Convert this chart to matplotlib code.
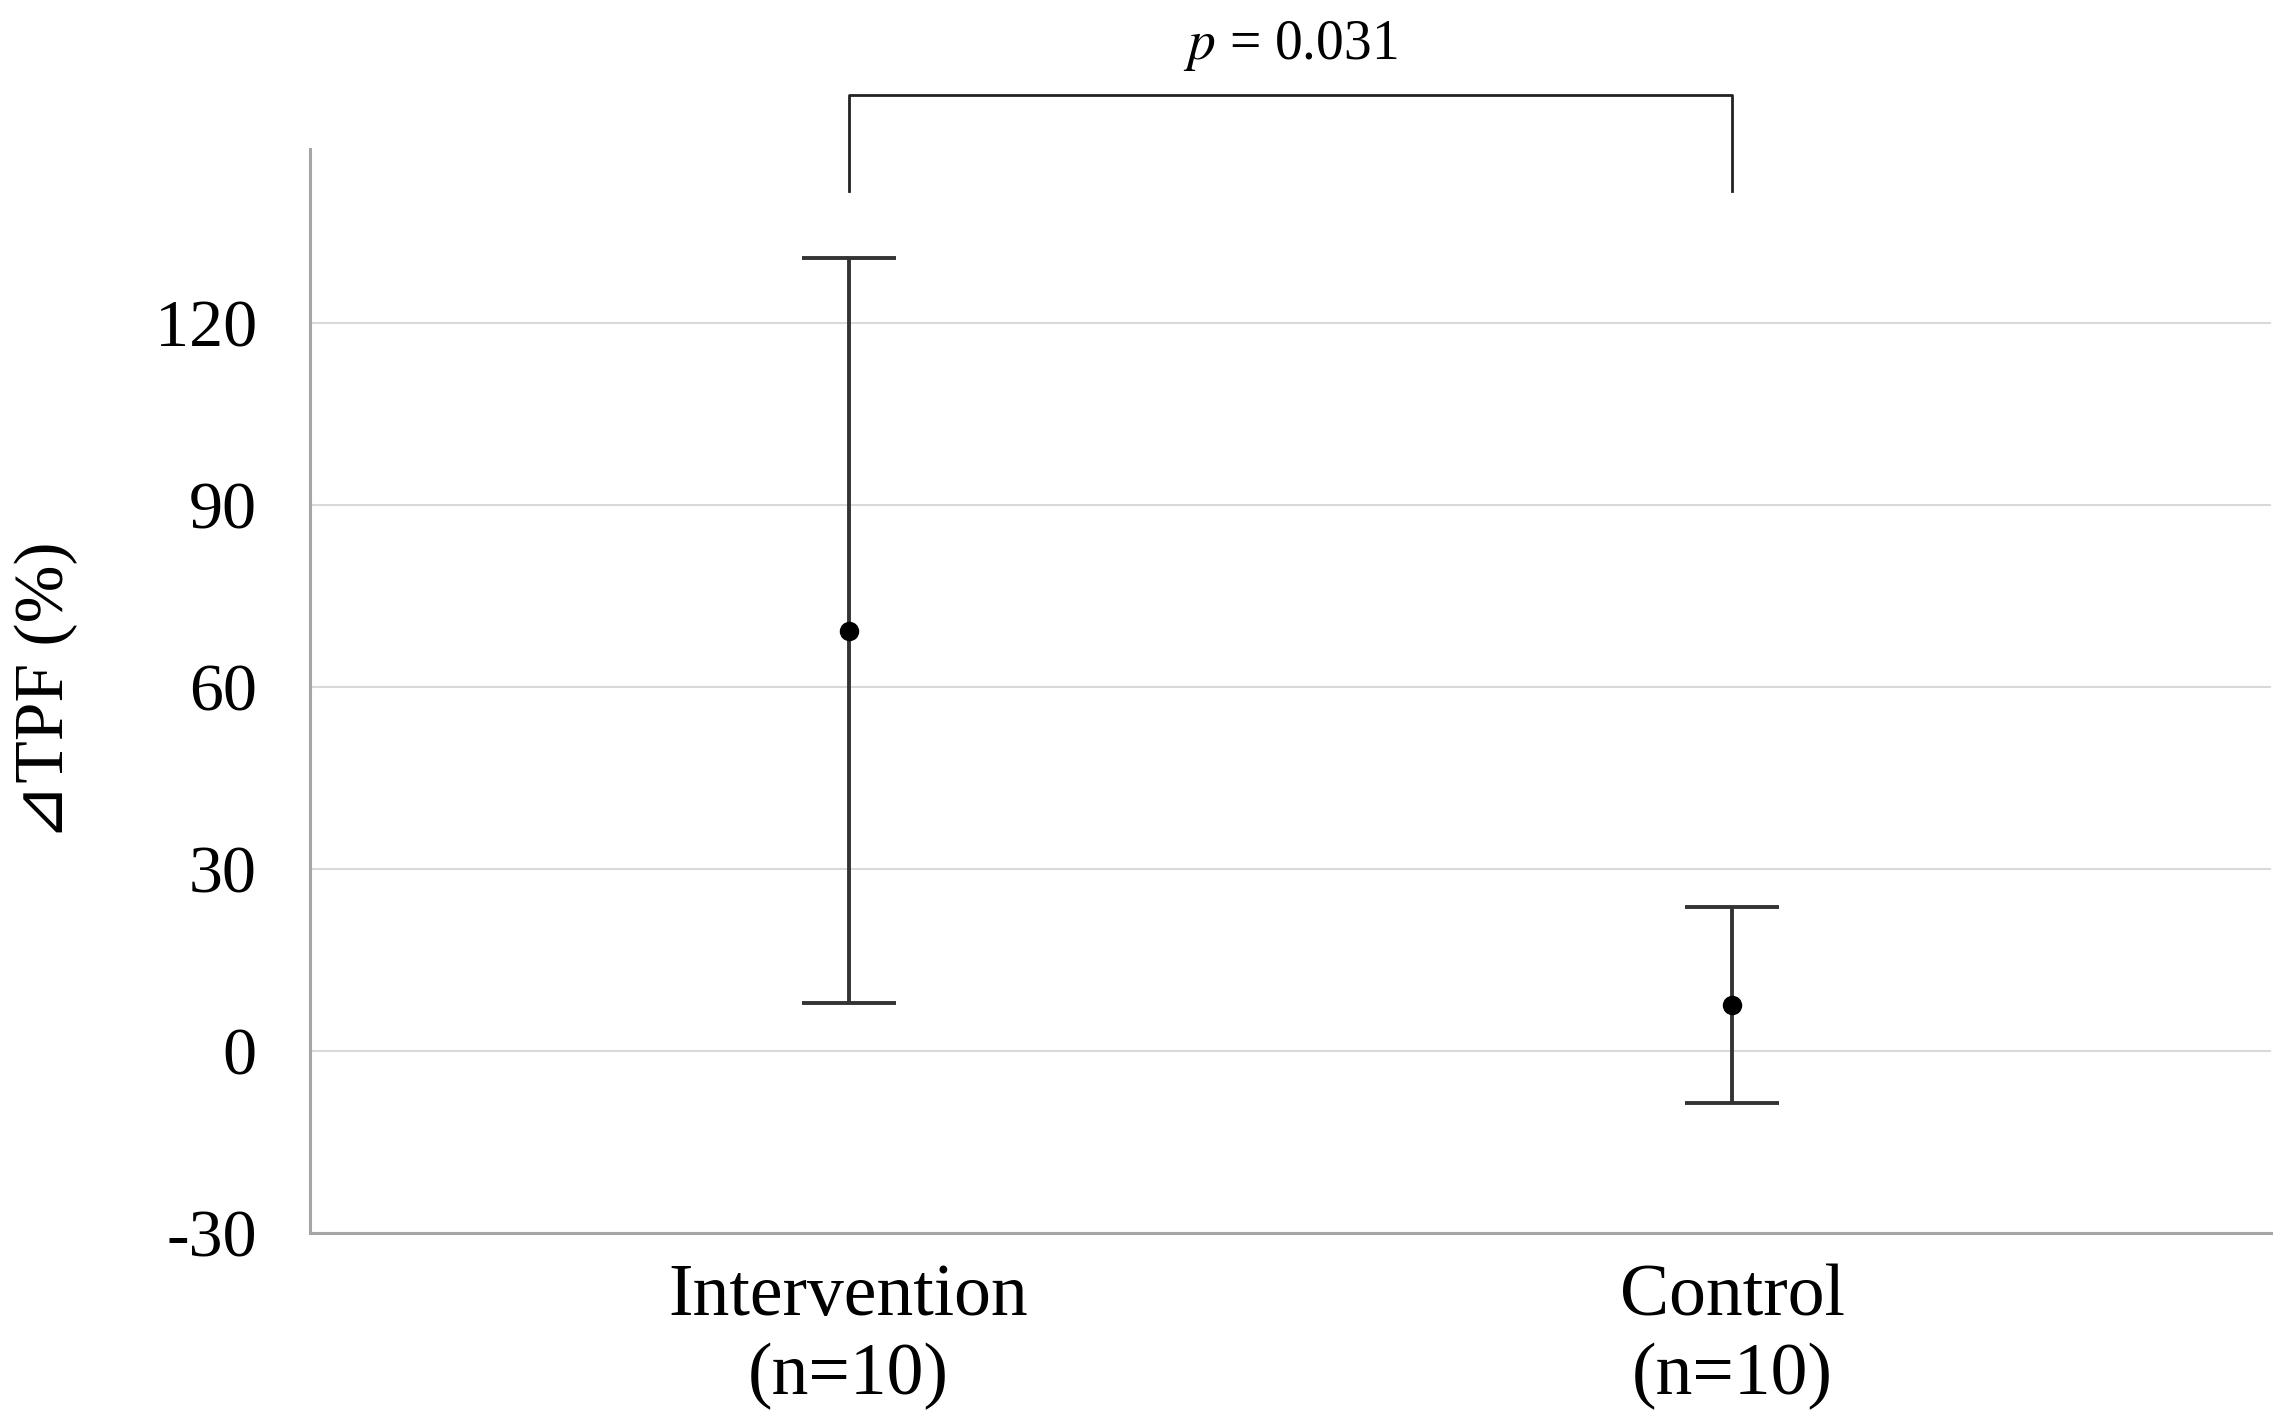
import matplotlib.pyplot as plt

# Daten: Mittelwert und Standardabweichung je Gruppe
groups = ["Intervention\n(n=10)", "Control\n(n=10)"]
means = [69.3, 7.6]
sds = [61.4, 16.2]
yticks = [-30, 0, 30, 60, 90, 120]
p_label = "$p$ = 0.031"

plt.rcParams["mathtext.fontset"] = "stix"

fig = plt.figure(figsize=(22.88, 14.26), dpi=100)
ax = fig.add_axes([0.1353, 0.1353, 0.8573, 0.7602])

x = list(range(len(groups)))
ax.errorbar(x, means, yerr=sds, fmt="o", color="#333333", ecolor="#333333",
            elinewidth=2.8, capsize=34, capthick=2.8,
            markersize=13, markerfacecolor="black", markeredgecolor="black",
            zorder=3)

ax.set_xlim(-0.61, 1.61)
ax.set_ylim(-30, 148.7)
ax.set_yticks(yticks)
ax.set_xticks(x)
ax.set_xticklabels(groups, family="Liberation Serif", fontsize=53, linespacing=1.22)
ax.set_yticklabels([str(t) for t in yticks], family="Liberation Serif", fontsize=49)
ax.tick_params(axis="y", length=0, pad=38)
ax.tick_params(axis="x", length=0, pad=22)

ax.grid(axis="y", color="#d9d9d9", linewidth=1.5, zorder=0)
ax.set_axisbelow(True)
for side in ["top", "right"]:
    ax.spines[side].set_visible(False)
for side in ["left", "bottom"]:
    ax.spines[side].set_color("#a6a6a6")
    ax.spines[side].set_linewidth(2.2)

ax.set_ylabel("\u22bfTPF (%)", family=["Liberation Serif", "DejaVu Sans"], fontsize=50)
ax.yaxis.set_label_coords(-0.118, 0.5)

# Signifikanzklammer ueber beiden Gruppen
ax.plot([x[0], x[0], x[1], x[1]], [141.7, 157.6, 157.6, 141.7],
        color="#222222", linewidth=2, clip_on=False)
ax.text((x[0] + x[1]) / 2, 163.5, p_label, ha="center", va="baseline",
        family="Liberation Serif", fontsize=40, clip_on=False)

fig.savefig("out.png")
